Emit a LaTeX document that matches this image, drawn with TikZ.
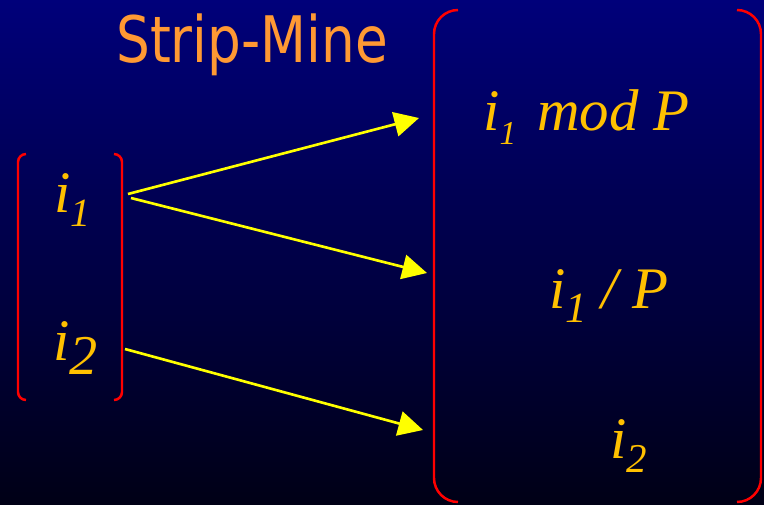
\documentclass[tikz,border=0pt]{standalone}
\usepackage{fontspec}
\usepackage{graphicx}
\setmainfont{Liberation Serif}
\newfontfamily\titlefont[FakeStretch=0.83]{DejaVu Sans}
\usetikzlibrary{arrows.meta}
\definecolor{bgtop}{RGB}{0,0,122}
\definecolor{bgbot}{RGB}{0,0,22}
\definecolor{titleorange}{RGB}{255,153,51}
\definecolor{vargold}{RGB}{255,192,0}
\definecolor{arrowyellow}{RGB}{255,255,0}
\definecolor{brackred}{RGB}{255,0,0}
\newcommand{\lsub}[2]{\raisebox{-8.5pt}{\fontsize{#1}{#1}\selectfont #2}}
\begin{document}
\begin{tikzpicture}[x=0.02cm,y=-0.02cm,
  var/.style={text=vargold, font=\fontsize{33.5}{33.5}\selectfont\itshape, inner sep=0, anchor=base west},
  bracket/.style={draw=brackred, line width=1.4pt},
  link/.style={draw=arrowyellow, line width=1.5pt, -{Triangle[length=14pt,width=14pt]}}]
\useasboundingbox (0,0) rectangle (764,504);
\shade[top color=bgtop, bottom color=bgbot] (0,0) rectangle (764,504);

% title
\node[anchor=base, text=titleorange, font=\titlefont\fontsize{36.5}{36.5}\selectfont, inner sep=0] (title) at (252,62) {Strip-Mine};

% left bracket
\draw[bracket] (26,154) arc[start angle=-90, end angle=-180, radius=8] -- (18,392) arc[start angle=-180, end angle=-270, radius=8];
\draw[bracket] (114,154) arc[start angle=-90, end angle=0, radius=8] -- (122,392) arc[start angle=0, end angle=90, radius=8];

% right bracket
\draw[bracket] (458,10) arc[start angle=-90, end angle=-180, radius=24] -- (434,478) arc[start angle=-180, end angle=-270, radius=24];
\draw[bracket] (737,10) arc[start angle=-90, end angle=0, radius=24] -- (761,478) arc[start angle=0, end angle=90, radius=24];

% variables
\node[var] (li1) at (54,212) {i\lsub{22.8}{1}};
\node[var] (li2) at (53,360) {i\lsub{32}{2}};
\node[var] (rmod) at (483,130) {i\lsub{19}{1}\hspace{12pt}mod P};
\node[var] (rdiv) at (549,308) {i\lsub{24.5}{1} / P};
\node[var] (ri2) at (610,458) {i\lsub{23.3}{2}};

% connector ends
\coordinate (s1) at (128,194);
\coordinate (s2) at (131,198);
\coordinate (s3) at (125,349);
\coordinate (t1) at (419,118);
\coordinate (t2) at (427,273);
\coordinate (t3) at (423,430);

\draw[link] (s1) -- (t1);
\draw[link] (s2) -- (t2);
\draw[link] (s3) -- (t3);
\end{tikzpicture}
\end{document}
